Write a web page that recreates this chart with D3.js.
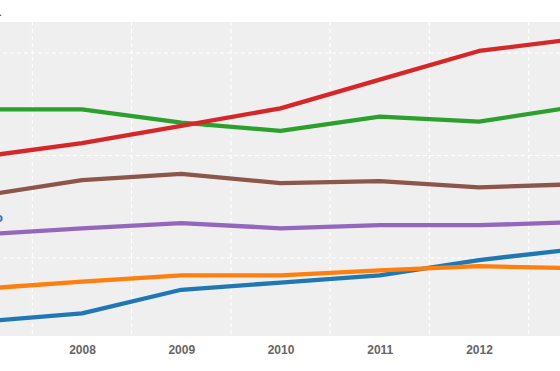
<!DOCTYPE html>
<html>
<head>
<meta charset="utf-8">
<script src="https://cdn.jsdelivr.net/npm/d3@7"></script>
<style>
  body { margin: 0; background: #fff; }
  svg { display: block; }
</style>
</head>
<body>
<svg id="chart" width="560" height="371"></svg>
<script>
const years = [2007, 2008, 2009, 2010, 2011, 2012, 2013]
const tickYears = [2008, 2009, 2010, 2011, 2012]

const blue   = [3.8, 4.6, 6.9, 7.6, 8.3, 9.8, 10.9]
const orange = [7.0, 7.7, 8.3, 8.3, 8.8, 9.2, 9.0]
const green  = [24.5, 24.5, 23.2, 22.4, 23.8, 23.3, 24.8]
const red    = [19.9, 21.2, 22.9, 24.6, 27.4, 30.2, 31.4]
const purple = [12.3, 12.9, 13.4, 12.9, 13.2, 13.2, 13.5]
const brown  = [16.1, 17.6, 18.2, 17.3, 17.5, 16.9, 17.2]

const seriesList = [
    { name: "blue", values: blue, color: "#1f77b4" },
    { name: "orange", values: orange, color: "#ff7f0e" },
    { name: "purple", values: purple, color: "#9467bd" },
    { name: "brown", values: brown, color: "#8c564b" },
    { name: "green", values: green, color: "#2ca02c" },
    { name: "red", values: red, color: "#d62728" }
]

let svg = d3.select("#chart")
let plot = { top: 22, bottom: 336 }

// the chart is shown cropped: 2007 and 2013 sit just outside the window
let x = d3.scaleLinear().domain([2007, 2013]).range([-17.25, 578.25])
let y = d3.scaleLinear().domain([0, 30]).range([360.5, 53])

svg.append("rect")
    .attr("x", -60)
    .attr("y", plot.top)
    .attr("width", 700)
    .attr("height", plot.bottom - plot.top)
    .attr("fill", "#efefef")

svg.append("clipPath").attr("id", "clip")
    .append("rect")
    .attr("x", -60).attr("y", plot.top)
    .attr("width", 700).attr("height", plot.bottom - plot.top)

// gridlines between the years and at every 10 units
let grid = svg.append("g").attr("clip-path", "url(#clip)")
grid.selectAll(".vgrid")
    .data(d3.range(2006.5, 2014, 1))
    .join("line")
    .attr("x1", d => x(d)).attr("x2", d => x(d))
    .attr("y1", plot.top).attr("y2", plot.bottom)
    .attr("stroke", "#fff")
    .attr("stroke-width", 1.2)
    .attr("stroke-dasharray", "4,3")
grid.selectAll(".hgrid")
    .data(y.ticks(3))
    .join("line")
    .attr("x1", -60).attr("x2", 640)
    .attr("y1", d => y(d)).attr("y2", d => y(d))
    .attr("stroke", "#fff")
    .attr("stroke-width", 1.2)
    .attr("stroke-dasharray", "4,3")

let line = d3.line()
    .x((d, i) => x(years[i]))
    .y(d => y(d))

svg.append("g").attr("clip-path", "url(#clip)")
    .selectAll("path")
    .data(seriesList)
    .join("path")
    .attr("d", d => line(d.values))
    .attr("fill", "none")
    .attr("stroke", d => d.color)
    .attr("stroke-width", 4.3)
    .attr("stroke-linejoin", "round")

let xAxis = svg.append("g")
    .attr("transform", `translate(0,${plot.bottom})`)
    .call(d3.axisBottom(x).tickValues(tickYears).tickFormat(d3.format("d")).tickSize(0).tickPadding(9))
xAxis.select(".domain").remove()
xAxis.selectAll("text")
    .attr("font-family", "Liberation Sans, Arial, sans-serif")
    .attr("font-size", 12)
    .attr("font-weight", "bold")
    .attr("fill", "#666")

// bits of text cut off at the left edge
svg.append("text")
    .attr("x", 2).attr("y", 16)
    .attr("text-anchor", "end")
    .attr("font-family", "Liberation Sans, Arial, sans-serif")
    .attr("font-size", 12)
    .attr("fill", "#2a3a6a")
    .text("s.")
svg.append("text")
    .attr("x", 3).attr("y", 222)
    .attr("text-anchor", "end")
    .attr("font-family", "Liberation Sans, Arial, sans-serif")
    .attr("font-size", 13)
    .attr("font-weight", "bold")
    .attr("fill", "#2f6fb8")
    .text("o")
</script>
</body>
</html>
